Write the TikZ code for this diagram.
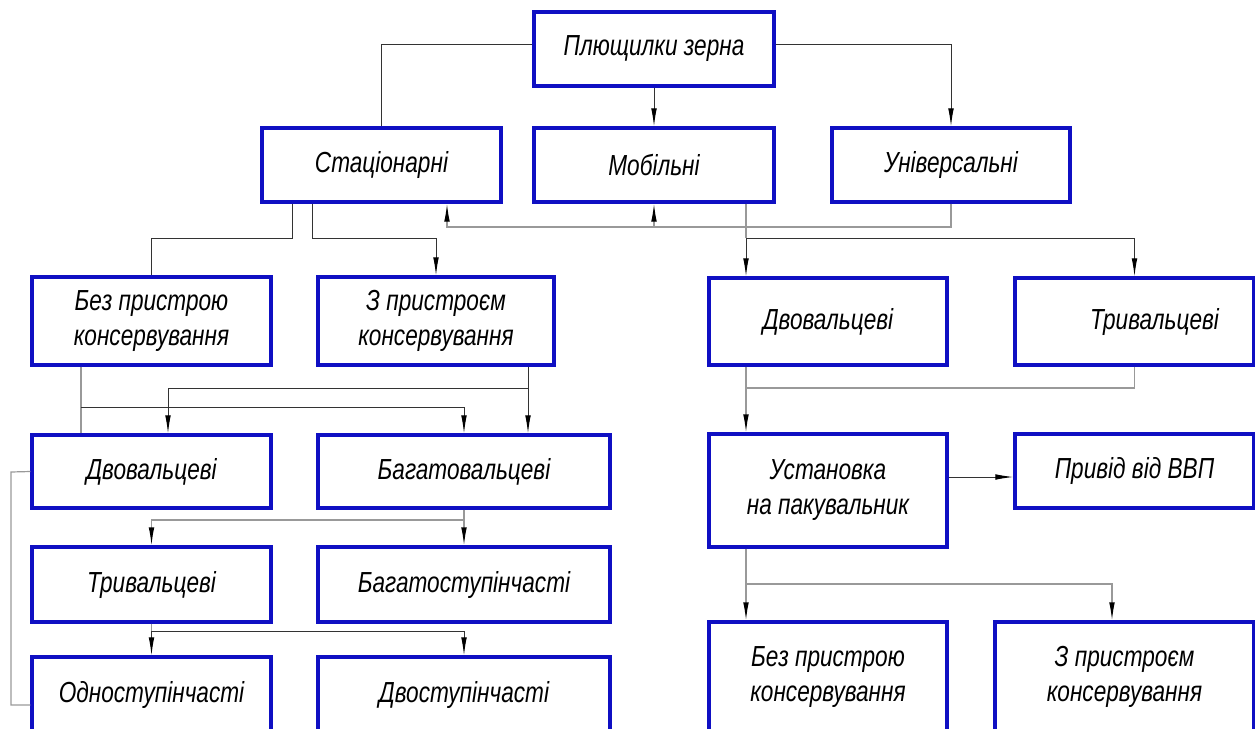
\documentclass[tikz,border=0pt]{standalone}
\usepackage{fontspec}
\newfontfamily\gostfont{Liberation Sans}[FakeStretch=0.78]
\usepackage{tikz}
\usetikzlibrary{arrows.meta}

\definecolor{boxblue}{RGB}{15,15,195}

\begin{document}
\begin{tikzpicture}[x=0.5pt,y=-0.5pt,>={Latex[length=9pt,width=2.8pt,color=black]},
  blk/.style={draw=boxblue,line width=1.6pt,align=center,inner sep=2pt,
    font=\gostfont\itshape\fontsize{14.5}{17.5}\selectfont},
  ln/.style={draw=black!80,line width=0.5pt},
  gl/.style={draw=black!40,line width=0.6pt}]
\useasboundingbox (0,0) rectangle (1255,729);
% top levels
\node[blk,minimum width=120pt,minimum height=37pt] (pl_top) at (654,49) {Плющилки зерна};
\node[blk,minimum width=119.5pt,minimum height=37pt] (pl_stat) at (381.5,165) {Стаціонарні};
\node[blk,minimum width=120pt,minimum height=37pt] (pl_mob) at (654,165) {Мобільні};
\node[blk,minimum width=119pt,minimum height=37pt] (pl_univ) at (951,165) {Універсальні};
% stationary branch
\node[blk,minimum width=119.5pt,minimum height=44pt] (st_bez) at (151.5,321) {Без пристрою\\консервування};
\node[blk,minimum width=118pt,minimum height=44pt] (st_z) at (436,321) {З пристроєм\\консервування};
\node[blk,minimum width=119.5pt,minimum height=36.5pt] (st_dv) at (151.5,471.5) {Двовальцеві};
\node[blk,minimum width=146pt,minimum height=36.5pt] (st_bag) at (464,471.5) {Багатовальцеві};
\node[blk,minimum width=119.5pt,minimum height=37.5pt] (st_tri) at (151.5,584.5) {Тривальцеві};
\node[blk,minimum width=146pt,minimum height=37.5pt] (st_bst) at (464,584.5) {Багатоступінчасті};
\node[blk,minimum width=119.5pt,minimum height=37.5pt] (st_odn) at (151.5,694.5) {Одноступінчасті};
\node[blk,minimum width=146pt,minimum height=37.5pt] (st_dvs) at (464,694.5) {Двоступінчасті};
% mobile branch
\node[blk,minimum width=119pt,minimum height=43.5pt] (mb_dv) at (828,321.5) {Двовальцеві};
\node[blk,minimum width=119.5pt,minimum height=43.5pt] (mb_tri) at (1134.5,321.5) {\hspace*{20pt}Тривальцеві};
\node[blk,minimum width=119pt,minimum height=56.5pt] (mb_ust) at (828,490.5) {Установка\\на пакувальник};
\node[blk,minimum width=119.5pt,minimum height=37pt] (mb_priv) at (1134.5,471) {Привід від ВВП};
\node[blk,minimum width=119pt,minimum height=55pt] (mb_bez) at (828,677) {Без пристрою\\консервування};
\node[blk,minimum width=129.5pt,minimum height=55pt] (mb_z) at (1124.5,677) {З пристроєм\\консервування};

% junctions
\coordinate (j_univ) at (447,227);
\coordinate (j_s1) at (292,238);
\coordinate (j_s2) at (312,238);
\coordinate (j_m) at (746,238);
\coordinate (j_bez) at (81,407);
\coordinate (j_z) at (528,388);
\coordinate (j_z2) at (168,388);
\coordinate (j_bag) at (464,520);
\coordinate (j_tri) at (151.5,631);
\coordinate (j_k1) at (11,472);
\coordinate (j_k2) at (11,705);
\coordinate (j_dv) at (746,388);
\coordinate (j_ust) at (746,584);
\coordinate (j_ust2) at (1112,584);

% level 1
\draw[ln] ([yshift=2.5pt]pl_top.west) -| (pl_stat.north);
\draw[ln,->] (pl_top.south) -- (pl_mob.north);
\draw[ln,->] ([yshift=2.5pt]pl_top.east) -| (pl_univ.north);
\draw[gl,->] (pl_univ.south) |- (j_univ) -- (j_univ |- pl_stat.south);
\draw[gl,->] (pl_mob.south |- j_univ) -- (pl_mob.south);
% stationary
\draw[ln] (j_s1 |- pl_stat.south) -- (j_s1) -| (st_bez.north);
\draw[ln,->] (j_s2 |- pl_stat.south) -- (j_s2) -| (st_z.north);
\draw[gl] (j_bez |- st_bez.south) -- (j_bez |- st_dv.north);
\draw[ln,->] (j_bez) -| (st_bag.north);
\draw[ln,->] (j_z |- st_z.south) -- (j_z |- st_bag.north);
\draw[ln,->] (j_z) -- (j_z2) -- (j_z2 |- st_dv.north);
\draw[gl] (st_bag.south) -- (j_bag);
\draw[gl,->] (j_bag) -- (st_bst.north);
\draw[gl,->] (j_bag) -| (st_tri.north);
\draw[gl] (st_tri.south) -- (j_tri);
\draw[ln,->] (j_tri) -- (st_odn.north);
\draw[ln,->] (j_tri) -| (st_dvs.north);
\draw[gl] (st_dv.west) -- (j_k1) -- (j_k2) -- (j_k2 -| st_odn.west);
% mobile
\draw[gl] (j_m |- pl_mob.south) -- (j_m);
\draw[ln,->] (j_m) -- (j_m |- mb_dv.north);
\draw[ln,->] (j_m) -| (mb_tri.north);
\draw[gl] (j_dv |- mb_dv.south) -- (j_dv);
\draw[gl] (mb_tri.south) |- (j_dv);
\draw[gl,->] (j_dv) -- (j_dv |- mb_ust.north);
\draw[ln,->] ([yshift=-3pt]mb_ust.east |- mb_priv.west) -- ([yshift=-3pt]mb_priv.west);
\draw[gl] (j_ust |- mb_ust.south) -- (j_ust);
\draw[gl,->] (j_ust) -- (j_ust |- mb_bez.north);
\draw[gl,->] (j_ust) -- (j_ust2) -- (j_ust2 |- mb_z.north);
\end{tikzpicture}
\end{document}
